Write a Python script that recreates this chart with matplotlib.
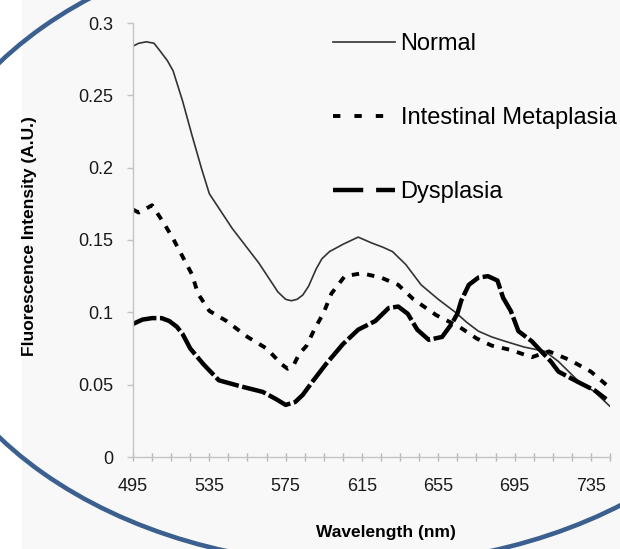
import numpy as np
import matplotlib
matplotlib.use('Agg')
import matplotlib.pyplot as plt
from matplotlib.lines import Line2D
from matplotlib.patches import Ellipse, Rectangle

plt.rcParams['font.family'] = ['Liberation Sans', 'DejaVu Sans']

# spectra (wavelength in nm, intensity in A.U.)
normal_nm = [495, 498, 502, 506, 509, 513, 516, 521, 526, 531, 535, 541, 547, 554,
             561, 566, 571, 575, 578, 581, 584, 587, 591, 594, 598, 605, 613, 620,
             626, 631, 638, 646, 655, 664, 670, 676, 683, 690, 700, 711, 718, 728,
             737, 745]
normal_val = [0.284, 0.286, 0.287, 0.286, 0.281, 0.274, 0.267, 0.246, 0.222, 0.199,
              0.182, 0.170, 0.158, 0.146, 0.134, 0.124, 0.114, 0.109, 0.108, 0.109,
              0.112, 0.118, 0.130, 0.137, 0.142, 0.147, 0.152, 0.148, 0.145, 0.142,
              0.133, 0.119, 0.109, 0.100, 0.093, 0.087, 0.083, 0.080, 0.076, 0.073,
              0.066, 0.053, 0.045, 0.035]

im_nm = [495, 498, 505, 511, 516, 520, 526, 529, 535, 544, 555, 565, 573, 576, 579,
         582, 586, 590, 595, 599, 606, 615, 625, 634, 642, 654, 660, 666, 675, 683,
         693, 704, 713, 724, 735, 743]
im_val = [0.171, 0.169, 0.174, 0.162, 0.151, 0.141, 0.126, 0.113, 0.101, 0.094,
          0.083, 0.075, 0.064, 0.061, 0.063, 0.071, 0.077, 0.088, 0.100, 0.113,
          0.125, 0.127, 0.124, 0.119, 0.109, 0.098, 0.094, 0.090, 0.082, 0.077,
          0.074, 0.069, 0.073, 0.067, 0.059, 0.050]

dys_nm = [495, 500, 505, 510, 514, 518, 521, 525, 532, 540, 551, 563, 570, 575, 580,
          584, 589, 596, 605, 613, 622, 629, 634, 639, 644, 650, 657, 662, 665, 667,
          671, 676, 681, 686, 689, 693, 697, 704, 709, 714, 718, 728, 737, 743]
dys_val = [0.092, 0.095, 0.096, 0.096, 0.094, 0.090, 0.085, 0.075, 0.064, 0.053,
           0.049, 0.045, 0.040, 0.036, 0.038, 0.043, 0.052, 0.064, 0.078, 0.088,
           0.094, 0.103, 0.104, 0.099, 0.088, 0.081, 0.083, 0.092, 0.099, 0.108,
           0.119, 0.124, 0.125, 0.122, 0.110, 0.101, 0.087, 0.080, 0.073, 0.066,
           0.059, 0.052, 0.046, 0.040]

labels = ['Normal', 'Intestinal Metaplasia', 'Dysplasia']
xtick_vals = [495, 535, 575, 615, 655, 695, 735]
ytick_vals = [0, 0.05, 0.1, 0.15, 0.2, 0.25, 0.3]
ytick_labels = ['0', '0.05', '0.1', '0.15', '0.2', '0.25', '0.3']

fig = plt.figure(figsize=(6.2, 5.49), dpi=100)
fig.patch.set_facecolor('white')
# light textured page behind the chart
fig.add_artist(Rectangle((22 / 620, 0), 1, 1, transform=fig.transFigure,
                         facecolor='#f8f8f8', edgecolor='none', zorder=-10))

ax = fig.add_axes([133 / 620, 1 - 457 / 549, 477 / 620, 434 / 549])
ax.set_facecolor('none')

ax.plot(normal_nm, normal_val, color='#333333', lw=1.2, solid_joinstyle='round')
ax.plot(im_nm, im_val, color='black', lw=2.8, dashes=(1.9, 2.1))
ax.plot(dys_nm, dys_val, color='black', lw=3.2, dashes=(5.5, 0.8))

ax.set_xlim(495, 745)
ax.set_ylim(0, 0.3)
ax.set_xticks(xtick_vals)
ax.set_xticks(np.arange(495, 746, 10), minor=True)
ax.set_yticks(ytick_vals)
ax.set_yticklabels(ytick_labels)

for s in ['top', 'right']:
    ax.spines[s].set_visible(False)
for s in ['left', 'bottom']:
    ax.spines[s].set_color('#c4c4c4')
    ax.spines[s].set_linewidth(1.0)

ax.tick_params(axis='x', which='both', direction='inout', length=6, color='#b8b8b8',
               width=1, labelsize=13, pad=12, labelcolor='#1a1a1a')
ax.tick_params(axis='y', direction='out', length=4, color='#c4c4c4', width=1,
               labelsize=13, pad=10, labelcolor='#1a1a1a')

ax.set_xlabel('Wavelength (nm)', fontsize=12.5, fontweight='bold')
ax.xaxis.set_label_coords(0.53, -0.156)
ax.set_ylabel('Fluorescence Intensity (A.U.)', fontsize=12.5, fontweight='bold')
ax.yaxis.set_label_coords(-0.201, 0.51)

handles = [
    Line2D([], [], color='#333333', lw=1.2),
    Line2D([], [], color='black', lw=2.8, dashes=(1.9, 3.6)),
    Line2D([], [], color='black', lw=3.2, dashes=(6.8, 2.9)),
]
ax.legend(handles, labels, loc='upper left', bbox_to_anchor=(0.40, 0.998),
          frameon=False, fontsize=17, handlelength=2.6, handletextpad=0.25,
          labelspacing=2.2, borderaxespad=0)

# dark blue round frame laid over the figure
fig.add_artist(Ellipse((358.5 / 620, 1 - 250 / 549), 2 * 446.6 / 620, 2 * 315.2 / 549,
                       transform=fig.transFigure, fill=False, edgecolor='#3b5f8e',
                       lw=3.3, zorder=20))

fig.savefig('out.png', dpi=100)
